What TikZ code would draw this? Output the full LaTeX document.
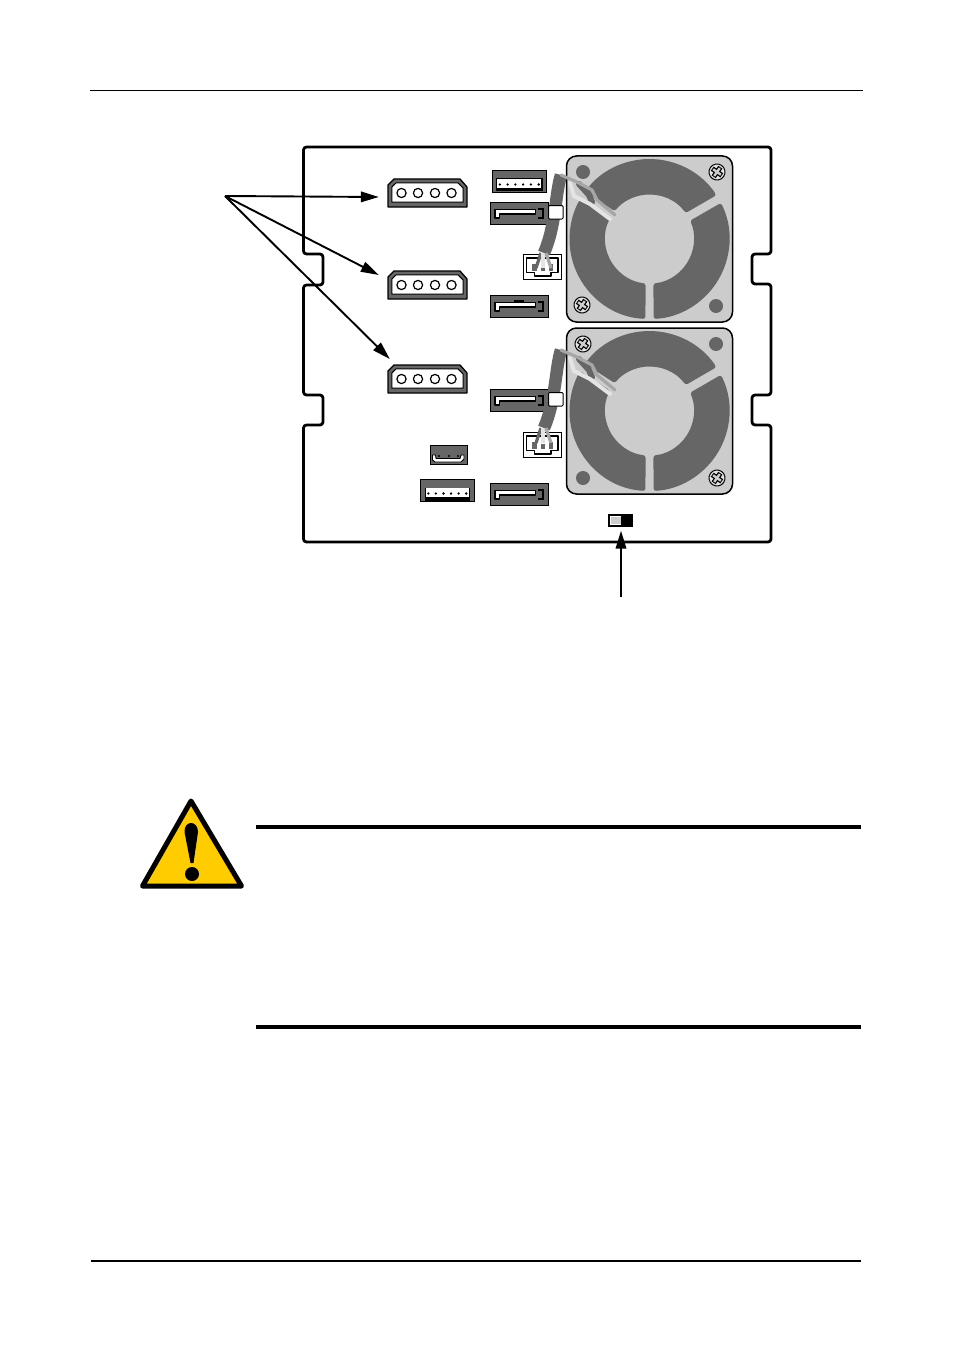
\documentclass[tikz,border=0pt]{standalone}
\usetikzlibrary{arrows.meta,calc}
\definecolor{dk}{HTML}{666666}
\definecolor{lt}{HTML}{CCCCCC}
\definecolor{wire}{HTML}{A6A6A6}
\definecolor{pale}{HTML}{E4E4E4}
\definecolor{warn}{HTML}{FFCC00}
\tikzset{
  x=1pt,y=-1pt,
  rule/.style={line width=1.1pt,draw=black},
  heavy/.style={line width=4pt,draw=black},
  outline/.style={line width=2.8pt,draw=black,line join=round,rounded corners=3pt},
  callout/.style={line width=1.9pt,draw=black,-{Triangle[length=18pt,width=10.5pt]}},
  wirea/.style={line width=3.2pt,draw=wire,line cap=round,line join=round},
  wireb/.style={line width=4pt,draw=pale,line cap=round,line join=round},
  wirec/.style={line width=6pt,draw=dk,line cap=round},
  screwdot/.style={fill=dk,draw=none},
  blade/.style={fill=dk,draw=none,rounded corners=2.5pt},
}
\newcommand{\molexc}[3]{%
  \begin{scope}[shift={(#2,#3)}]
    \filldraw[fill=dk,draw=black,line width=1.3pt,line join=round] (0,6)--(6,0)--(72,0)--(79,8)--(79,28)--(0,28)--cycle;
    \filldraw[fill=white,draw=black,line width=1pt,line join=round] (3.8,8)--(8.2,3.8)--(70,3.8)--(75.2,9)--(75.2,23.2)--(3.8,23.2)--cycle;
    \foreach \px in {13.5,30,47,63.5}{\draw[fill=white,line width=1.2pt] (\px,14) circle (4.6);}
    \node[inner sep=0pt,minimum width=79pt,minimum height=28pt] (#1) at (39.5,14) {};
  \end{scope}}
\newcommand{\sataport}[2]{%
  \begin{scope}[shift={(#1,#2)}]
    \filldraw[fill=dk,draw=black,line width=.8pt] (0,0) rectangle (57.5,22.5);
    \draw[black,line width=1.8pt] (0,22.5)--(57.5,22.5);
    \filldraw[fill=white,draw=black,line width=1.1pt,line join=round] (4.5,7.5)--(45,7.5)--(45,12)--(9,12)--(9,16)--(4.5,16)--cycle;
    \draw[black,line width=2.1pt] (47,7)--(52.5,7)--(52.5,16)--(47,16);
  \end{scope}}
\newcommand{\pinport}[3]{%
  \begin{scope}[shift={(#1,#2)}]
    \filldraw[fill=dk,draw=black,line width=1pt] (0,0) rectangle (#3,22);
    \fill[black] (4,8) rectangle ({#3-4},21);
    \fill[white] (5.2,8.8) rectangle ({#3-5.2},17.4);
    \foreach \i in {0,1,2,3,4,5}{\fill[black] ({7.8+\i*(#3-15.6)/5},14) circle (1.3);}
  \end{scope}}
\newcommand{\fanhead}[2]{%
  \begin{scope}[shift={(#1,#2)}]
    \filldraw[fill=white,draw=black,line width=.9pt] (0,0) rectangle (38.5,24.5);
    \filldraw[fill=white,draw=black,line width=1.1pt,line join=round] (3.5,3.5)--(35,3.5)--(35,18)--(28,18)--(28,21.5)--(11.5,21.5)--(11.5,18)--(3.5,18)--cycle;
    \fill[dk] (9,9) rectangle (13.5,16);
    \fill[dk] (17.5,11) rectangle (21.5,16);
    \fill[dk] (25.5,9) rectangle (30,16);
  \end{scope}}
\newcommand{\cablewires}[2]{%
  \begin{scope}[shift={(#1,#2)}]
    \draw[line width=12.5pt,draw=dk] (561,175) .. controls (555,195) and (556,225) .. (544,253);
    \draw[wirec] (579,184)--(589,195)--(592,202);
    \draw[wireb] (570,183)--(574,196)--(590,204)--(610,219);
    \draw[wirea] (561,175)--(577,182)--(592,190)--(597,200)--(615,215);
    \draw[line width=3.2pt,draw=dk] (541,253)--(536,268);
    \draw[line width=3.2pt,draw=pale] (543,253)--(543,268);
    \draw[line width=3.2pt,draw=wire] (546,253)--(551,268);
  \end{scope}}
\newcommand{\fanunit}[2]{%
  \begin{scope}[shift={(#1,#2)}]
    \filldraw[fill=lt,draw=black,line width=1.5pt,rounded corners=10pt] (-83,-83) rectangle (83,83);
    \fill[blade] (-143.8:80) arc[start angle=-143.8,end angle=-33.2,radius=80] -- (-35.7:44.5) arc[start angle=-35.7,end angle=-141.3,radius=44.5] -- cycle;
    \fill[blade] (-26.8:80) arc[start angle=-26.8,end angle=87.1,radius=80] -- (84.9:44.5) arc[start angle=84.9,end angle=-24.3,radius=44.5] -- cycle;
    \fill[blade] (92.9:80) arc[start angle=92.9,end angle=209.8,radius=80] -- (207.3:44.5) arc[start angle=207.3,end angle=95.1,radius=44.5] -- cycle;
  \end{scope}}
\newcommand{\crossscrew}[2]{%
  \begin{scope}[shift={(#1,#2)},rotate=-35]
    \draw[fill=pale,line width=1pt] (0,0) circle (8);
    \draw[black,line width=5pt] (-5.8,0)--(5.8,0) (0,-5.8)--(0,5.8);
    \draw[lt,line width=2.4pt] (-4.8,0)--(4.8,0) (0,-4.8)--(0,4.8);
  \end{scope}}
\begin{document}
\begin{tikzpicture}
\useasboundingbox (0,0) rectangle (954,1351);
\fill[white] (0,0) rectangle (954,1351);
\coordinate (hl) at (90,90.5); \coordinate (hr) at (863,90.5);
\coordinate (fl) at (91,1261); \coordinate (fr) at (861,1261);
\draw[rule] (hl)--(hr);
\draw[rule] (fl)--(fr);
\draw[outline] (303.5,147)--(771,147)--(771,254)--(752,254)--(752,284)--(771,284)--(771,395)--(752,395)--(752,425)--(771,425)--(771,542)--(303.5,542)--(303.5,425)--(323,425)--(323,395)--(303.5,395)--(303.5,285)--(323,285)--(323,254)--(303.5,254)--cycle;
\fanunit{649.5}{239}
\fanunit{649.5}{411}
\fill[screwdot] (583,172) circle (7);
\fill[screwdot] (716,306) circle (7);
\fill[screwdot] (716,344) circle (7);
\fill[screwdot] (583,478) circle (7);
\crossscrew{717}{172}
\crossscrew{582}{305}
\crossscrew{583}{344}
\crossscrew{717}{478}
\pinport{492}{170.5}{54.5}
\sataport{490.5}{202}
\sataport{490.5}{295}
\fill[black] (514,299.5) rectangle (524,301.5);
\sataport{490.5}{389}
\sataport{490.5}{483}
\pinport{420.5}{479.5}{53.5}
\filldraw[fill=dk,draw=black,line width=1pt] (430,445.5) rectangle (467,464);
\filldraw[fill=white,draw=black,line width=.9pt,line join=round] (432.5,455)--(432.5,460)--(435,462)--(461,462)--(464,459)--(464,455)--(461,455)--(460,458.5)--(436,458.5)--(435.5,455)--cycle;
\foreach \px in {439,449,458}{\fill[black] (\px,456) circle (1.2);}
\fanhead{523}{254.5}
\fanhead{523}{432.5}
\cablewires{0}{0}
\cablewires{0}{175}
\filldraw[fill=white,draw=black,line width=1pt,rounded corners=1pt] (548.5,205.5) rectangle (563,219);
\filldraw[fill=white,draw=black,line width=1pt,rounded corners=1pt] (548.5,392.5) rectangle (563,406);
\molexc{m1}{388}{179}
\molexc{m2}{388}{271}
\molexc{m3}{388}{365}
\fill[black] (608,514) rectangle (633,527);
\fill[white] (610,516) rectangle (631,525);
\fill[lt] (611,517) rectangle (621,524);
\fill[black] (621,516) rectangle (631,525);
\node[inner sep=0pt,minimum width=25pt,minimum height=13pt] (sw) at (620.5,520.5) {};
\coordinate (src) at (225,196);
\coordinate (t1) at ([shift={(-9,4)}]m1.west);
\coordinate (t2) at ([shift={(-9,-10)}]m2.west);
\coordinate (t3) at ([shift={(2,-20)}]m3.west);
\coordinate (swfoot) at (621,597);
\coordinate (swtip) at ([shift={(0.5,3.5)}]sw.south);
\draw[callout] (src)--(t1);
\draw[callout] (src)--(t2);
\draw[callout] (src)--(t3);
\draw[callout] (swfoot)--(swtip);
\filldraw[fill=warn,draw=black,line width=5pt,line join=round] (191,801)--(241.5,886)--(142.5,886)--cycle;
\fill[black] (184.5,832) .. controls (184,820) and (198,820) .. (198,832) -- (193.5,863) -- (190.5,863) -- cycle;
\fill[black] (192,874) circle (7);
\coordinate (c1) at (256,827); \coordinate (c2) at (861,827);
\coordinate (c3) at (256,1027); \coordinate (c4) at (861,1027);
\draw[heavy] (c1)--(c2);
\draw[heavy] (c3)--(c4);
\end{tikzpicture}
\end{document}
